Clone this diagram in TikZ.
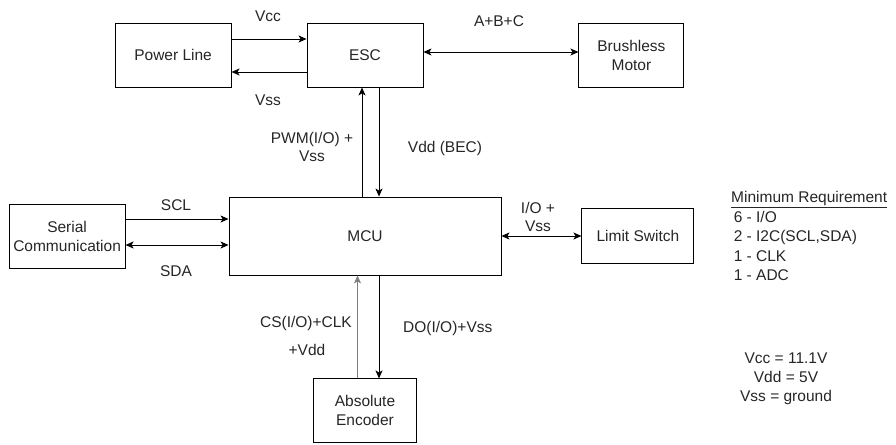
\documentclass[tikz,border=0pt]{standalone}
\usepackage{fontspec}
\setmainfont{Liberation Sans}
\usetikzlibrary{arrows.meta,positioning}

\begin{document}
\begin{tikzpicture}[x=1pt,y=-1pt,
  block/.style={draw,line width=0.9pt,align=center,text=black!85,font=\fontsize{15.5}{19}\selectfont,inner sep=0pt},
  lbl/.style={align=center,text=black!85,font=\fontsize{15.5}{17.5}\selectfont,inner sep=0pt},
  arrow/.style={-{Stealth[length=8pt,width=7pt,inset=2pt]},line width=0.9pt},
  both/.style={{Stealth[length=8pt,width=7pt,inset=2pt]}-{Stealth[length=8pt,width=7pt,inset=2pt]},line width=0.9pt}
]
\useasboundingbox (0,0) rectangle (896,444);
% blocks
\node[block,minimum width=116pt,minimum height=64pt] (esc) at (365,55) {ESC};
\node[block,minimum width=116pt,minimum height=64pt,left=75pt of esc] (power) {Power Line};
\node[block,minimum width=105pt,minimum height=64pt,right=155pt of esc] (motor) {Brushless\\Motor};
\node[block,minimum width=272pt,minimum height=78pt] (mcu) at (365,236) {MCU};
\node[block,minimum width=116pt,minimum height=64pt,left=103pt of mcu] (serial) {Serial\\Communication};
\node[block,minimum width=112pt,minimum height=55pt,right=80pt of mcu] (limit) {Limit Switch};
\node[block,minimum width=103pt,minimum height=64pt,below=103pt of mcu] (enc) {Absolute\\Encoder};
% connectors
\draw[arrow] ([yshift=16pt]power.east) -- ([yshift=16pt]esc.west);
\draw[arrow] ([yshift=-17pt]esc.west) -- ([yshift=-17pt]power.east);
\draw[both] ([yshift=3pt]esc.east) -- ([yshift=3pt]motor.west);
\draw[arrow] ([xshift=-3pt]mcu.north) -- ([xshift=-3pt]esc.south);
\draw[arrow] ([xshift=14pt]esc.south) -- ([xshift=14pt]mcu.north);
\draw[arrow] ([yshift=17pt]serial.east) -- ([yshift=17pt]mcu.west);
\draw[both] ([yshift=-9pt]serial.east) -- ([yshift=-9pt]mcu.west);
\draw[both] (mcu.east) -- (limit.west);
\draw[arrow,gray] ([xshift=-7.5pt]enc.north) -- ([xshift=-7.5pt]mcu.south);
\draw[arrow] ([xshift=14pt]mcu.south) -- ([xshift=14pt]enc.north);
% labels
\node[lbl] (vcc) at (268,16) {Vcc};
\node[lbl] (vss) at (268,100) {Vss};
\node[lbl] (abc) at (499,21) {A+B+C};
\node[lbl] (pwm) at (312,147) {PWM(I/O) +\\Vss};
\node[lbl] (vdd) at (445,148) {Vdd (BEC)};
\node[lbl] (scl) at (176,205) {SCL};
\node[lbl] (sda) at (176,271) {SDA};
\node[lbl] (io) at (538,217) {I/O +\\Vss};
\node[lbl,anchor=east] (cs) at (352,323) {CS(I/O)+CLK};
\node[lbl] (vddenc) at (307,350) {+Vdd};
\node[lbl,anchor=west] (do) at (403,328) {DO(I/O)+Vss};
\node[lbl,anchor=west,align=left,font=\fontsize{15.5}{19.5}\selectfont] (req) at (731,236)
  {\underline{Minimum Requirement}\\ \,6 - I/O\\ \,2 - I2C(SCL,SDA)\\ \,1 - CLK\\ \,1 - ADC};
\node[lbl,font=\fontsize{15.5}{19}\selectfont] (values) at (786,379) {Vcc = 11.1V\\Vdd = 5V\\Vss = ground};
\end{tikzpicture}
\end{document}
